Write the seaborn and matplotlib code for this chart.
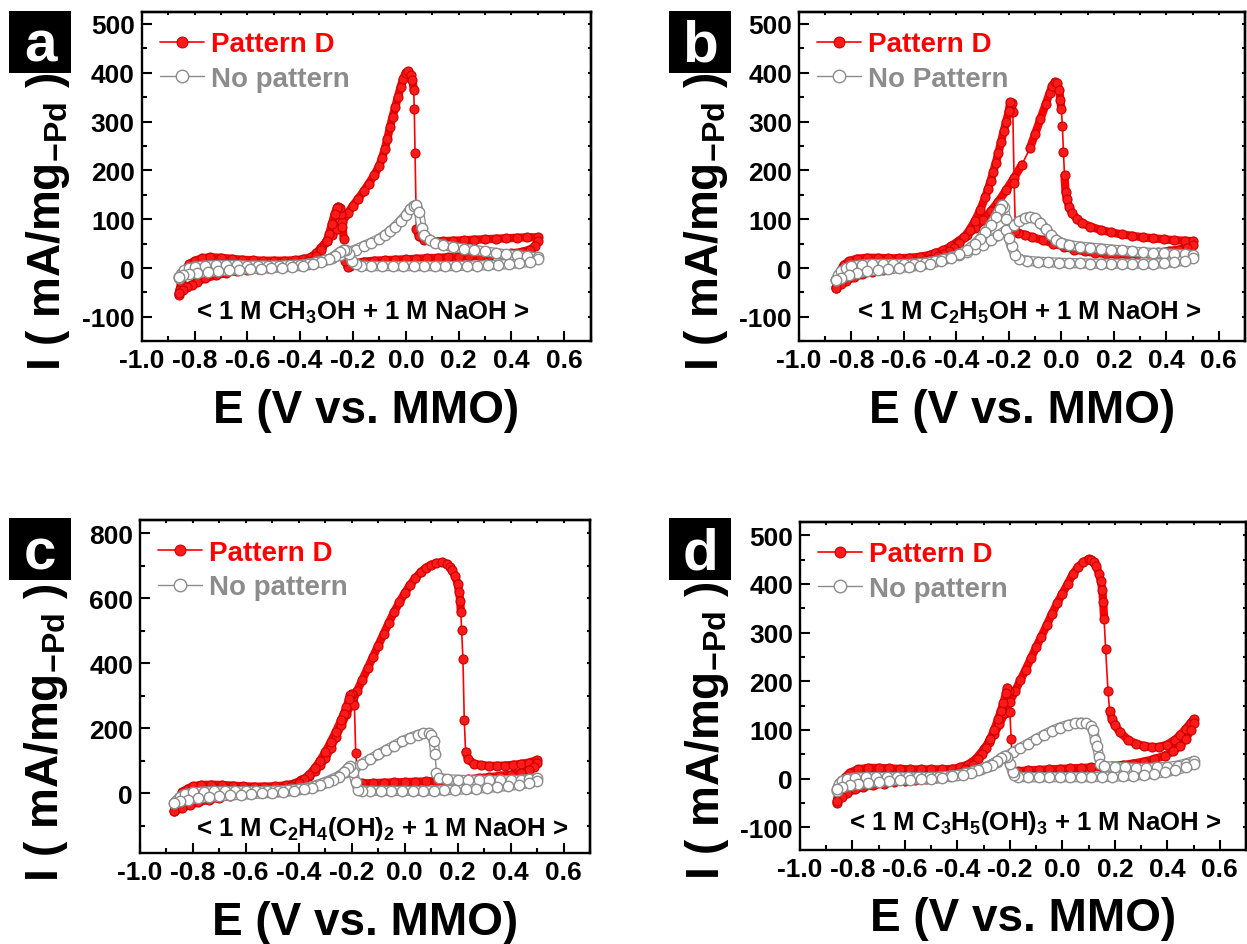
import numpy as np
import pandas as pd
import seaborn as sns
import matplotlib.pyplot as plt
from matplotlib.patches import Rectangle
from matplotlib.ticker import MultipleLocator

# CV data: (E / V vs. MMO, I / mA mg-Pd^-1) in scan order
# (a) methanol
A_PD_FWD = [(-0.86, -55), (-0.855, -42), (-0.85, -28), (-0.84, -12), (-0.83, 0), (-0.82, 8), (-0.80, 15),
            (-0.77, 20), (-0.74, 22), (-0.70, 21), (-0.66, 19), (-0.62, 17), (-0.58, 16), (-0.54, 15),
            (-0.50, 15), (-0.46, 15), (-0.42, 16), (-0.39, 18), (-0.36, 22), (-0.34, 30), (-0.32, 42),
            (-0.30, 55), (-0.28, 68), (-0.26, 80), (-0.24, 95), (-0.22, 112), (-0.20, 128), (-0.18, 142),
            (-0.16, 157), (-0.14, 173), (-0.12, 190), (-0.10, 210), (-0.09, 225), (-0.08, 243), (-0.07, 265),
            (-0.06, 288), (-0.05, 310), (-0.04, 330), (-0.03, 350), (-0.02, 370), (-0.01, 388), (0.0, 400),
            (0.01, 403), (0.02, 395), (0.025, 385), (0.03, 365), (0.032, 325), (0.035, 235), (0.04, 80),
            (0.05, 65), (0.07, 57), (0.10, 55), (0.14, 55), (0.18, 56), (0.22, 57), (0.26, 58), (0.30, 59),
            (0.34, 60), (0.38, 61), (0.42, 62), (0.46, 63), (0.50, 63)]
A_PD_REV = [(0.50, 55), (0.49, 45), (0.47, 38), (0.44, 33), (0.40, 30), (0.36, 28), (0.32, 26), (0.28, 25),
            (0.24, 24), (0.20, 23), (0.16, 22), (0.12, 21), (0.08, 20), (0.04, 19), (0.0, 18), (-0.04, 17),
            (-0.08, 16), (-0.12, 15), (-0.16, 13), (-0.19, 10), (-0.21, 5), (-0.22, 2), (-0.23, 15),
            (-0.235, 60), (-0.24, 85), (-0.245, 110), (-0.25, 122), (-0.255, 126), (-0.26, 124), (-0.27, 110),
            (-0.28, 90), (-0.29, 70), (-0.30, 55), (-0.32, 38), (-0.34, 25), (-0.37, 15), (-0.40, 10),
            (-0.44, 6), (-0.48, 3), (-0.52, 1), (-0.56, -1), (-0.60, -3), (-0.64, -6), (-0.68, -10),
            (-0.72, -15), (-0.76, -21), (-0.79, -28), (-0.81, -34), (-0.83, -38), (-0.845, -45), (-0.86, -52)]
A_NO_FWD = [(-0.86, -20), (-0.85, -12), (-0.84, -5), (-0.82, 0), (-0.80, 3), (-0.76, 5), (-0.72, 6),
            (-0.68, 6), (-0.64, 6), (-0.60, 5), (-0.56, 5), (-0.52, 5), (-0.48, 5), (-0.44, 6), (-0.40, 7),
            (-0.37, 9), (-0.34, 12), (-0.31, 16), (-0.28, 20), (-0.25, 26), (-0.22, 32), (-0.19, 38),
            (-0.16, 45), (-0.13, 52), (-0.10, 60), (-0.08, 67), (-0.06, 75), (-0.04, 85), (-0.02, 96),
            (0.0, 108), (0.015, 120), (0.03, 128), (0.04, 130), (0.05, 115), (0.06, 82), (0.07, 67),
            (0.09, 58), (0.11, 52), (0.14, 47), (0.18, 43), (0.22, 40), (0.26, 37), (0.30, 34), (0.34, 31),
            (0.38, 28), (0.42, 26), (0.46, 24), (0.50, 22)]
A_NO_REV = [(0.50, 18), (0.47, 13), (0.43, 10), (0.39, 8), (0.35, 7), (0.31, 6), (0.27, 5), (0.23, 5),
            (0.19, 4), (0.15, 4), (0.11, 4), (0.07, 4), (0.03, 4), (-0.01, 4), (-0.05, 4), (-0.09, 4),
            (-0.13, 4), (-0.17, 5), (-0.19, 8), (-0.205, 14), (-0.215, 28), (-0.225, 36), (-0.235, 38),
            (-0.25, 33), (-0.27, 25), (-0.29, 18), (-0.32, 12), (-0.35, 8), (-0.39, 5), (-0.43, 3),
            (-0.47, 1), (-0.51, 0), (-0.55, -1), (-0.59, -2), (-0.63, -3), (-0.67, -5), (-0.71, -6),
            (-0.75, -8), (-0.79, -10), (-0.82, -12), (-0.845, -15), (-0.86, -18)]

# (b) ethanol
B_PD_FWD = [(-0.86, -40), (-0.855, -28), (-0.85, -15), (-0.84, -3), (-0.83, 6), (-0.81, 14), (-0.78, 19),
            (-0.74, 21), (-0.70, 21), (-0.66, 20), (-0.62, 20), (-0.58, 21), (-0.54, 23), (-0.50, 27),
            (-0.48, 31), (-0.45, 36), (-0.42, 45), (-0.39, 56), (-0.36, 68), (-0.33, 82), (-0.30, 98),
            (-0.27, 116), (-0.24, 136), (-0.21, 160), (-0.18, 185), (-0.15, 212), (-0.12, 245), (-0.10, 275),
            (-0.08, 305), (-0.06, 335), (-0.045, 358), (-0.035, 372), (-0.025, 381), (-0.015, 378),
            (-0.008, 365), (-0.004, 345), (0.0, 326), (0.004, 290), (0.008, 237), (0.012, 190), (0.016, 156),
            (0.02, 142), (0.03, 125), (0.04, 113), (0.06, 100), (0.08, 92), (0.11, 85), (0.15, 78),
            (0.19, 73), (0.23, 69), (0.27, 66), (0.31, 63), (0.35, 61), (0.39, 59), (0.43, 57), (0.47, 56),
            (0.50, 55)]
B_PD_REV = [(0.50, 48), (0.48, 42), (0.45, 38), (0.41, 35), (0.37, 32), (0.33, 30), (0.29, 29), (0.25, 28),
            (0.21, 28), (0.17, 29), (0.13, 31), (0.09, 34), (0.05, 38), (0.01, 44), (-0.03, 50), (-0.07, 57),
            (-0.11, 63), (-0.14, 68), (-0.165, 72), (-0.175, 75), (-0.18, 175), (-0.185, 320), (-0.19, 338),
            (-0.195, 340), (-0.20, 322), (-0.21, 300), (-0.22, 280), (-0.23, 258), (-0.24, 236), (-0.25, 215),
            (-0.26, 196), (-0.27, 178), (-0.28, 161), (-0.29, 145), (-0.31, 118), (-0.33, 96), (-0.35, 78),
            (-0.37, 63), (-0.39, 51), (-0.41, 42), (-0.43, 35), (-0.45, 29), (-0.47, 24), (-0.50, 18),
            (-0.53, 13), (-0.56, 9), (-0.60, 5), (-0.64, 1), (-0.68, -3), (-0.72, -8), (-0.76, -13),
            (-0.79, -19), (-0.82, -26), (-0.84, -32), (-0.86, -40)]
B_NO_FWD = [(-0.86, -25), (-0.85, -15), (-0.84, -7), (-0.82, 0), (-0.80, 4), (-0.76, 7), (-0.72, 8),
            (-0.68, 8), (-0.64, 8), (-0.60, 8), (-0.56, 9), (-0.52, 11), (-0.48, 14), (-0.45, 18),
            (-0.42, 22), (-0.39, 27), (-0.36, 33), (-0.33, 40), (-0.30, 48), (-0.27, 57), (-0.24, 67),
            (-0.21, 78), (-0.18, 89), (-0.16, 96), (-0.14, 102), (-0.12, 105), (-0.10, 102), (-0.08, 93),
            (-0.06, 80), (-0.04, 68), (-0.02, 58), (0.0, 52), (0.03, 47), (0.07, 44), (0.11, 42), (0.15, 40),
            (0.19, 38), (0.23, 36), (0.27, 34), (0.31, 32), (0.35, 31), (0.39, 30), (0.43, 29), (0.47, 28),
            (0.50, 27)]
B_NO_REV = [(0.50, 20), (0.47, 15), (0.43, 12), (0.39, 10), (0.35, 9), (0.31, 9), (0.27, 9), (0.23, 9),
            (0.19, 9), (0.15, 9), (0.11, 9), (0.07, 10), (0.03, 10), (-0.01, 11), (-0.05, 12), (-0.09, 13),
            (-0.13, 15), (-0.16, 18), (-0.175, 26), (-0.19, 45), (-0.20, 62), (-0.21, 100), (-0.22, 125),
            (-0.225, 130), (-0.235, 120), (-0.25, 105), (-0.27, 88), (-0.29, 73), (-0.31, 60), (-0.33, 49),
            (-0.36, 37), (-0.39, 28), (-0.42, 21), (-0.46, 14), (-0.50, 9), (-0.54, 5), (-0.58, 2),
            (-0.62, 0), (-0.66, -2), (-0.70, -4), (-0.74, -7), (-0.78, -11), (-0.81, -15), (-0.84, -20),
            (-0.86, -25)]

# (c) ethylene glycol
C_PD_FWD = [(-0.87, -55), (-0.865, -45), (-0.86, -30), (-0.85, -10), (-0.84, 5), (-0.82, 15), (-0.80, 22),
            (-0.77, 26), (-0.73, 27), (-0.69, 26), (-0.65, 24), (-0.61, 22), (-0.57, 21), (-0.53, 21),
            (-0.49, 22), (-0.45, 25), (-0.42, 30), (-0.39, 40), (-0.36, 55), (-0.34, 70), (-0.32, 88),
            (-0.30, 108), (-0.28, 140), (-0.26, 175), (-0.24, 210), (-0.22, 245), (-0.20, 280), (-0.18, 315),
            (-0.16, 350), (-0.14, 385), (-0.12, 420), (-0.10, 455), (-0.08, 490), (-0.06, 525), (-0.04, 558),
            (-0.02, 588), (0.0, 616), (0.02, 641), (0.04, 662), (0.06, 680), (0.08, 694), (0.10, 703),
            (0.12, 709), (0.14, 711), (0.16, 706), (0.17, 698), (0.18, 686), (0.19, 668), (0.20, 645),
            (0.205, 620), (0.21, 593), (0.212, 558), (0.215, 503), (0.22, 414), (0.225, 227), (0.23, 128),
            (0.24, 105), (0.26, 92), (0.29, 87), (0.32, 85), (0.35, 85), (0.38, 86), (0.41, 88), (0.44, 91),
            (0.47, 95), (0.50, 103)]
C_PD_REV = [(0.50, 93), (0.49, 82), (0.47, 72), (0.44, 64), (0.40, 58), (0.36, 54), (0.32, 50), (0.28, 47),
            (0.24, 44), (0.20, 42), (0.16, 40), (0.12, 38), (0.08, 37), (0.04, 36), (0.0, 35), (-0.04, 34),
            (-0.08, 33), (-0.12, 32), (-0.16, 31), (-0.175, 30), (-0.185, 123), (-0.19, 271), (-0.195, 300),
            (-0.20, 307), (-0.205, 302), (-0.21, 290), (-0.22, 265), (-0.23, 245), (-0.24, 225), (-0.26, 190),
            (-0.28, 157), (-0.30, 127), (-0.32, 100), (-0.34, 77), (-0.36, 58), (-0.38, 43), (-0.40, 32),
            (-0.43, 22), (-0.46, 15), (-0.50, 9), (-0.54, 5), (-0.58, 1), (-0.62, -3), (-0.66, -8),
            (-0.70, -13), (-0.74, -19), (-0.78, -27), (-0.81, -35), (-0.84, -44), (-0.87, -55)]
C_NO_FWD = [(-0.87, -30), (-0.86, -20), (-0.85, -10), (-0.83, -2), (-0.80, 3), (-0.76, 6), (-0.72, 7),
            (-0.68, 7), (-0.64, 7), (-0.60, 7), (-0.56, 7), (-0.52, 8), (-0.48, 9), (-0.44, 11), (-0.40, 14),
            (-0.37, 18), (-0.34, 24), (-0.31, 32), (-0.28, 42), (-0.25, 53), (-0.22, 65), (-0.19, 78),
            (-0.16, 92), (-0.13, 106), (-0.10, 120), (-0.07, 134), (-0.04, 147), (-0.01, 160), (0.02, 171),
            (0.05, 180), (0.07, 185), (0.09, 186), (0.10, 180), (0.11, 160), (0.115, 120), (0.12, 62),
            (0.13, 48), (0.16, 44), (0.20, 42), (0.24, 41), (0.28, 40), (0.32, 40), (0.36, 40), (0.40, 41),
            (0.44, 42), (0.47, 44), (0.50, 47)]
C_NO_REV = [(0.50, 38), (0.47, 32), (0.43, 27), (0.39, 23), (0.35, 20), (0.31, 17), (0.27, 15), (0.23, 13),
            (0.19, 11), (0.15, 10), (0.11, 9), (0.07, 8), (0.03, 8), (-0.01, 8), (-0.05, 8), (-0.09, 8),
            (-0.13, 8), (-0.16, 9), (-0.175, 12), (-0.185, 35), (-0.195, 65), (-0.205, 84), (-0.215, 78),
            (-0.23, 65), (-0.25, 52), (-0.27, 42), (-0.29, 34), (-0.32, 25), (-0.35, 18), (-0.38, 13),
            (-0.42, 8), (-0.46, 5), (-0.50, 2), (-0.54, 0), (-0.58, -2), (-0.62, -4), (-0.66, -6), (-0.70, -8),
            (-0.74, -11), (-0.78, -15), (-0.82, -19), (-0.85, -24), (-0.87, -28)]

# (d) glycerol
D_PD_FWD = [(-0.86, -50), (-0.855, -38), (-0.85, -25), (-0.84, -10), (-0.83, 2), (-0.81, 12), (-0.78, 19),
            (-0.74, 22), (-0.70, 22), (-0.66, 21), (-0.62, 20), (-0.58, 19), (-0.54, 19), (-0.50, 19),
            (-0.46, 19), (-0.42, 20), (-0.39, 23), (-0.36, 29), (-0.33, 40), (-0.30, 60), (-0.28, 75),
            (-0.26, 92), (-0.24, 112), (-0.22, 135), (-0.20, 158), (-0.18, 180), (-0.16, 202), (-0.14, 224),
            (-0.12, 247), (-0.10, 270), (-0.08, 292), (-0.06, 315), (-0.04, 338), (-0.02, 360), (0.0, 380),
            (0.02, 400), (0.04, 420), (0.06, 435), (0.08, 445), (0.10, 451), (0.11, 450), (0.12, 446),
            (0.13, 436), (0.14, 420), (0.147, 406), (0.152, 388), (0.156, 362), (0.159, 329), (0.165, 266),
            (0.174, 180), (0.18, 139), (0.19, 122), (0.20, 110), (0.22, 95), (0.25, 80), (0.28, 72),
            (0.31, 67), (0.34, 65), (0.37, 65), (0.40, 70), (0.43, 80), (0.45, 90), (0.47, 102), (0.49, 115),
            (0.50, 122)]
D_PD_REV = [(0.50, 115), (0.49, 100), (0.47, 82), (0.45, 68), (0.42, 56), (0.39, 47), (0.35, 40),
            (0.31, 35), (0.27, 31), (0.23, 28), (0.19, 26), (0.15, 24), (0.11, 23), (0.07, 22), (0.03, 21),
            (-0.01, 20), (-0.05, 19), (-0.09, 18), (-0.13, 17), (-0.17, 15), (-0.19, 12), (-0.195, 81),
            (-0.20, 136), (-0.205, 180), (-0.21, 187), (-0.215, 175), (-0.225, 155), (-0.235, 138),
            (-0.245, 122), (-0.26, 100), (-0.275, 81), (-0.29, 64), (-0.305, 50), (-0.32, 40), (-0.34, 29),
            (-0.37, 19), (-0.40, 12), (-0.44, 6), (-0.48, 2), (-0.52, 0), (-0.56, -2), (-0.60, -4),
            (-0.64, -7), (-0.68, -10), (-0.72, -13), (-0.76, -17), (-0.79, -22), (-0.82, -29), (-0.84, -37),
            (-0.86, -46)]
D_NO_FWD = [(-0.86, -25), (-0.855, -18), (-0.85, -10), (-0.84, -4), (-0.82, 0), (-0.79, 2), (-0.75, 3),
            (-0.71, 3), (-0.67, 3), (-0.63, 3), (-0.59, 3), (-0.55, 3), (-0.51, 3), (-0.47, 4), (-0.43, 6),
            (-0.40, 8), (-0.37, 11), (-0.34, 15), (-0.31, 20), (-0.28, 27), (-0.25, 35), (-0.22, 44),
            (-0.19, 54), (-0.16, 63), (-0.13, 72), (-0.10, 81), (-0.07, 90), (-0.04, 98), (-0.01, 105),
            (0.02, 110), (0.05, 114), (0.07, 115), (0.09, 114), (0.11, 108), (0.117, 100), (0.125, 80),
            (0.132, 67), (0.14, 45), (0.145, 30), (0.16, 26), (0.20, 24), (0.24, 23), (0.28, 22), (0.32, 22),
            (0.36, 23), (0.40, 24), (0.44, 27), (0.47, 31), (0.50, 36)]
D_NO_REV = [(0.50, 30), (0.47, 23), (0.43, 17), (0.39, 13), (0.35, 10), (0.31, 8), (0.27, 6), (0.23, 5),
            (0.19, 4), (0.15, 4), (0.11, 3), (0.07, 3), (0.03, 3), (-0.01, 3), (-0.05, 3), (-0.09, 3),
            (-0.13, 3), (-0.17, 4), (-0.185, 8), (-0.19, 14), (-0.20, 30), (-0.21, 45), (-0.22, 47),
            (-0.235, 42), (-0.25, 36), (-0.27, 29), (-0.29, 23), (-0.32, 17), (-0.35, 12), (-0.38, 8),
            (-0.42, 5), (-0.46, 2), (-0.50, 0), (-0.54, -1), (-0.58, -2), (-0.62, -3), (-0.66, -4),
            (-0.70, -6), (-0.74, -8), (-0.78, -11), (-0.81, -14), (-0.84, -18), (-0.86, -22)]

LEGEND_LABELS = {'a': ('Pattern D', 'No pattern'), 'b': ('Pattern D', 'No Pattern'),
                 'c': ('Pattern D', 'No pattern'), 'd': ('Pattern D', 'No pattern')}
NOTES = {'a': r'< 1 M CH$_3$OH + 1 M NaOH >',
         'b': r'< 1 M C$_2$H$_5$OH + 1 M NaOH >',
         'c': r'< 1 M C$_2$H$_4$(OH)$_2$ + 1 M NaOH >',
         'd': r'< 1 M C$_3$H$_5$(OH)$_3$ + 1 M NaOH >'}
CURVES = {'a': (A_PD_FWD, A_PD_REV, A_NO_FWD, A_NO_REV),
          'b': (B_PD_FWD, B_PD_REV, B_NO_FWD, B_NO_REV),
          'c': (C_PD_FWD, C_PD_REV, C_NO_FWD, C_NO_REV),
          'd': (D_PD_FWD, D_PD_REV, D_NO_FWD, D_NO_REV)}

sns.set_theme(style='ticks')
plt.rcParams['font.family'] = ['Liberation Sans', 'DejaVu Sans']
plt.rcParams['font.weight'] = 'bold'
plt.rcParams['axes.labelweight'] = 'bold'
plt.rcParams['text.color'] = 'black'
plt.rcParams['axes.labelcolor'] = 'black'
plt.rcParams['mathtext.fontset'] = 'custom'
plt.rcParams['mathtext.rm'] = 'Liberation Sans:bold'
plt.rcParams['mathtext.it'] = 'Liberation Sans:bold'
plt.rcParams['mathtext.bf'] = 'Liberation Sans:bold'
plt.rcParams['mathtext.default'] = 'bf'
plt.rcParams['axes.unicode_minus'] = False

RED, RED_EDGE, GREY = '#ff0000', '#c80000', '#8c8c8c'


def band(ax, pts, color, lw, gap_px=17):
    # dense runs of markers in the original merge into a solid band; sparse jumps stay thin
    e = np.array([p[0] for p in pts], dtype=float)
    cur = np.array([p[1] for p in pts], dtype=float)
    xy = ax.transData.transform(np.column_stack([e, cur]))
    xs, ys = [e[0]], [cur[0]]
    for i in range(1, len(e)):
        if np.hypot(*(xy[i] - xy[i - 1])) > gap_px:
            xs.append(np.nan)
            ys.append(np.nan)
        xs.append(e[i])
        ys.append(cur[i])
    ax.plot(xs, ys, color=color, lw=lw, solid_capstyle='round', solid_joinstyle='round')


W, H = 1247, 945
fig = plt.figure(figsize=(W / 100, H / 100), dpi=100)

# layout in pixels: (left, top, right, bottom) of each axes box, ylim, y major/minor, note position
layout = {
    'a': dict(box=(141.7, 12.7, 590.7, 342.3), ylim=(-150, 525), ymaj=100, ymin=50, note=(0.491, 0.089), tag=(9, 11.7)),
    'b': dict(box=(799, 12.7, 1245, 342.3), ylim=(-150, 525), ymaj=100, ymin=50, note=(0.515, 0.089), tag=(669, 11.7)),
    'c': dict(box=(140, 520.7, 590, 854.3), ylim=(-184, 842), ymaj=200, ymin=100, note=(0.538, 0.076), tag=(9, 519)),
    'd': dict(box=(800, 522.7, 1246, 850.7), ylim=(-146, 528), ymaj=100, ymin=50, note=(0.527, 0.085), tag=(669, 519)),
}

for key, lay in layout.items():
    l, t, r, b = lay['box']
    ax = fig.add_axes([l / W, 1 - b / H, (r - l) / W, (b - t) / H])
    ax.set_xlim(-1.0, 0.7)
    ax.set_ylim(*lay['ylim'])
    pd_fwd, pd_rev, no_fwd, no_rev = CURVES[key]
    lab_pd, lab_no = LEGEND_LABELS[key]

    df_pd = pd.DataFrame(pd_fwd + pd_rev, columns=['E', 'I'])
    df_no = pd.DataFrame(no_fwd + no_rev, columns=['E', 'I'])

    band(ax, pd_fwd + pd_rev, RED, 6.0)
    sns.lineplot(data=df_pd, x='E', y='I', sort=False, estimator=None, ax=ax, color=RED, lw=1.2,
                 marker='o', markersize=6.5, markerfacecolor='#ff1a1a', markeredgecolor=RED_EDGE,
                 markeredgewidth=0.8, label=lab_pd, legend=False)
    h_pd = ax.lines[-1]
    band(ax, no_fwd + no_rev, GREY, 7.4)
    band(ax, no_fwd + no_rev, 'white', 5.6)
    sns.lineplot(data=df_no, x='E', y='I', sort=False, estimator=None, ax=ax, color=GREY, lw=1.0,
                 marker='o', markersize=7.5, markerfacecolor='white', markeredgecolor=GREY,
                 markeredgewidth=1.0, label=lab_no, legend=False)
    h_no = ax.lines[-1]

    ax.set_xlim(-1.0, 0.7)
    ax.set_ylim(*lay['ylim'])
    ax.xaxis.set_major_locator(MultipleLocator(0.2))
    ax.xaxis.set_minor_locator(MultipleLocator(0.1))
    ax.yaxis.set_major_locator(MultipleLocator(lay['ymaj']))
    ax.yaxis.set_minor_locator(MultipleLocator(lay['ymin']))
    ax.tick_params(which='both', direction='in', width=1.5, labelsize=19, pad=5, colors='black')
    ax.tick_params(which='major', length=7)
    ax.tick_params(which='minor', length=3.5)
    for s in ax.spines.values():
        s.set_linewidth(1.7)
        s.set_color('black')
    sec_x = ax.secondary_xaxis('top')
    sec_x.xaxis.set_major_locator(MultipleLocator(0.1))
    sec_x.tick_params(direction='in', length=2.5, width=1.5, labeltop=False, colors='black')
    sec_x.spines['top'].set_linewidth(1.7)
    sec_y = ax.secondary_yaxis('right')
    sec_y.yaxis.set_major_locator(MultipleLocator(lay['ymin']))
    sec_y.tick_params(direction='in', length=2.5, width=1.5, labelright=False, colors='black')
    sec_y.spines['right'].set_linewidth(1.7)

    ax.set_xlabel('E (V vs. MMO)', fontsize=33, fontweight='bold', labelpad=11)
    ax.set_ylabel(r'I ( mA/mg$_{-Pd}$ )', fontsize=33, fontweight='bold')
    ax.yaxis.set_label_coords(-0.155, 0.365)

    leg = ax.legend(handles=[h_pd, h_no], labels=[lab_pd, lab_no], loc='upper left',
                    bbox_to_anchor=(0.04, 0.94), frameon=False, fontsize=20, handlelength=1.6,
                    handletextpad=0.25, labelspacing=0.31, borderpad=0, borderaxespad=0, markerscale=1.2)
    for txt, c in zip(leg.get_texts(), [RED, GREY]):
        txt.set_color(c)

    ax.text(lay['note'][0], lay['note'][1], NOTES[key], transform=ax.transAxes, ha='center', va='center',
            fontsize=18.5, color='black', zorder=10)

    tx, ty = lay['tag']
    fig.add_artist(Rectangle((tx / W, 1 - (ty + 62) / H), 62 / W, 62 / H, transform=fig.transFigure,
                             facecolor='black', edgecolor='none'))
    fig.text((tx + 31) / W, 1 - (ty + 50) / H, key, color='white', fontsize=42, ha='center', va='baseline')

fig.savefig('out.png', dpi=100)
